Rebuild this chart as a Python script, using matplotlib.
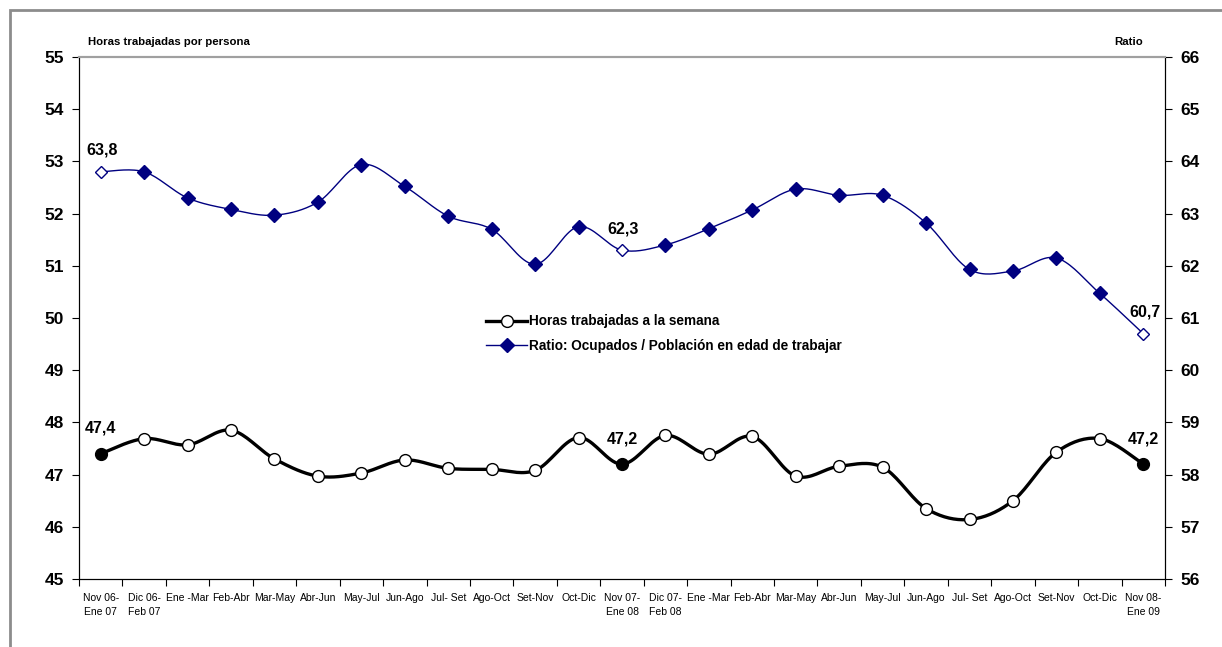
import numpy as np
import matplotlib
matplotlib.use("Agg")
import matplotlib.pyplot as plt
from matplotlib.lines import Line2D
from matplotlib.patches import Rectangle

plt.rcParams['font.family'] = ['Liberation Sans', 'DejaVu Sans']

periodos = ["Nov 06-\nEne 07", "Dic 06-\nFeb 07", "Ene -Mar", "Feb-Abr", "Mar-May", "Abr-Jun",
            "May-Jul", "Jun-Ago", "Jul- Set", "Ago-Oct", "Set-Nov", "Oct-Dic",
            "Nov 07-\nEne 08", "Dic 07-\nFeb 08", "Ene -Mar", "Feb-Abr", "Mar-May", "Abr-Jun",
            "May-Jul", "Jun-Ago", "Jul- Set", "Ago-Oct", "Set-Nov", "Oct-Dic",
            "Nov 08-\nEne 09"]

horas = [47.4, 47.69, 47.57, 47.85, 47.30, 46.97, 47.03, 47.28, 47.12, 47.10, 47.08, 47.71,
         47.2, 47.75, 47.39, 47.73, 46.97, 47.16, 47.14, 46.35, 46.14, 46.50, 47.43, 47.69,
         47.2]

ratio = [63.8, 63.8, 63.30, 63.08, 62.97, 63.22, 63.94, 63.52, 62.95, 62.70, 62.03, 62.75,
         62.3, 62.40, 62.71, 63.07, 63.47, 63.35, 63.35, 62.82, 61.93, 61.90, 62.15, 61.47,
         60.7]

destacados = [0, 12, 24]
etq_horas = ["47,4", "47,2", "47,2"]
etq_ratio = ["63,8", "62,3", "60,7"]

NAVY = "#000080"


def suavizar(y, n=20):
    # curva suavizada tipo Excel (Catmull-Rom) entre puntos
    y = np.asarray(y, float)
    x = np.arange(len(y), dtype=float)
    px = np.concatenate([[x[0]], x, [x[-1]]])
    py = np.concatenate([[y[0]], y, [y[-1]]])
    xs, ys = [], []
    t = np.linspace(0, 1, n)
    for i in range(len(y) - 1):
        p0 = np.array([px[i], py[i]])
        p1 = np.array([px[i + 1], py[i + 1]])
        p2 = np.array([px[i + 2], py[i + 2]])
        p3 = np.array([px[i + 3], py[i + 3]])
        c1 = p1 + (p2 - p0) / 6
        c2 = p2 - (p3 - p1) / 6
        b = ((1 - t) ** 3)[:, None] * p1 + (3 * (1 - t) ** 2 * t)[:, None] * c1 \
            + (3 * (1 - t) * t ** 2)[:, None] * c2 + (t ** 3)[:, None] * p2
        xs.append(b[:, 0])
        ys.append(b[:, 1])
    return np.concatenate(xs), np.concatenate(ys)


fig = plt.figure(figsize=(12.22, 6.47), dpi=100)
fig.patches.append(Rectangle((10 / 1222, -0.1), 1.2, 1 - 10 / 647 + 0.1, transform=fig.transFigure,
                             fill=False, edgecolor="#8c8c8c", linewidth=2))

ax = fig.add_axes([79 / 1222, 1 - 579 / 647, (1165 - 79) / 1222, (579 - 57) / 647])
ax2 = ax.twinx()

x = np.arange(len(periodos))
normales = [i for i in x if i not in destacados]

# horas
sx, sy = suavizar(horas)
ax.plot(sx, sy, color="black", lw=2.4, zorder=3)
ax.plot(x[normales], np.array(horas)[normales], ls="none", marker="o", ms=8.5,
        mfc="white", mec="black", mew=1, zorder=4)
ax.plot(x[destacados], np.array(horas)[destacados], ls="none", marker="o", ms=8.5,
        mfc="black", mec="black", mew=1, zorder=4)

# ratio
rx, ry = suavizar(ratio)
ax2.plot(rx, ry, color=NAVY, lw=1, zorder=3)
ax2.plot(x[normales], np.array(ratio)[normales], ls="none", marker="D", ms=7,
         mfc=NAVY, mec=NAVY, mew=1, zorder=4)
ax2.plot(x[destacados], np.array(ratio)[destacados], ls="none", marker="D", ms=6.5,
         mfc="white", mec=NAVY, mew=1, zorder=4)

for i, t in zip(destacados, etq_horas):
    ax.annotate(t, (x[i], horas[i]), xytext=(0, 13), textcoords="offset points",
                ha="center", va="bottom", fontsize=11.5, fontweight="bold")
for i, t in zip(destacados, etq_ratio):
    ax2.annotate(t, (x[i], ratio[i]), xytext=(1, 10), textcoords="offset points",
                 ha="center", va="bottom", fontsize=11.5, fontweight="bold")

ax.set_xlim(-0.5, len(periodos) - 0.5)
ax.set_ylim(45, 55)
ax2.set_ylim(56, 66)
ax.set_yticks(range(45, 56))
ax2.set_yticks(range(56, 67))

ax.set_xticks(np.arange(-0.5, len(periodos)), labels=[])
ax.set_xticks(x, labels=periodos, minor=True)
ax.tick_params(axis="x", which="major", direction="out", length=5, color="black")
ax.tick_params(axis="x", which="minor", length=0, pad=10, labelsize=7.5)
ax.tick_params(axis="y", direction="out", length=5, labelsize=12.5, pad=6)
ax2.tick_params(axis="y", direction="out", length=5, labelsize=12.5, pad=6)
for lab in ax.get_yticklabels() + ax2.get_yticklabels():
    lab.set_fontweight("bold")
for lab in ax.get_xticklabels(minor=True):
    lab.set_linespacing(1.5)

for a in (ax, ax2):
    a.spines["top"].set_color("#a0a0a0")
    a.spines["top"].set_linewidth(1.5)
    a.spines["left"].set_color("black")
    a.spines["right"].set_color("black")
    a.spines["bottom"].set_color("black")

fig.text(88 / 1222, 1 - 42 / 647, "Horas trabajadas por persona", fontsize=8.2,
         fontweight="bold", va="center", ha="left")
fig.text(1129 / 1222, 1 - 42 / 647, "Ratio", fontsize=8.2, fontweight="bold",
         va="center", ha="center")

handles = [Line2D([], [], color="black", lw=2.4, marker="o", ms=8.5, mfc="white", mec="black"),
           Line2D([], [], color=NAVY, lw=1, marker="D", ms=7, mfc=NAVY, mec=NAVY)]
ax2.legend(handles, ["Horas trabajadas a la semana", "Ratio: Ocupados / Población en edad de trabajar"],
           loc="upper left", bbox_to_anchor=(402 / 1086, 1 - 252 / 522), frameon=False,
           prop={"size": 9.8, "weight": "bold"}, handlelength=3.0, handletextpad=0.1,
           labelspacing=0.75, borderaxespad=0)

fig.savefig("out.png", dpi=100)
